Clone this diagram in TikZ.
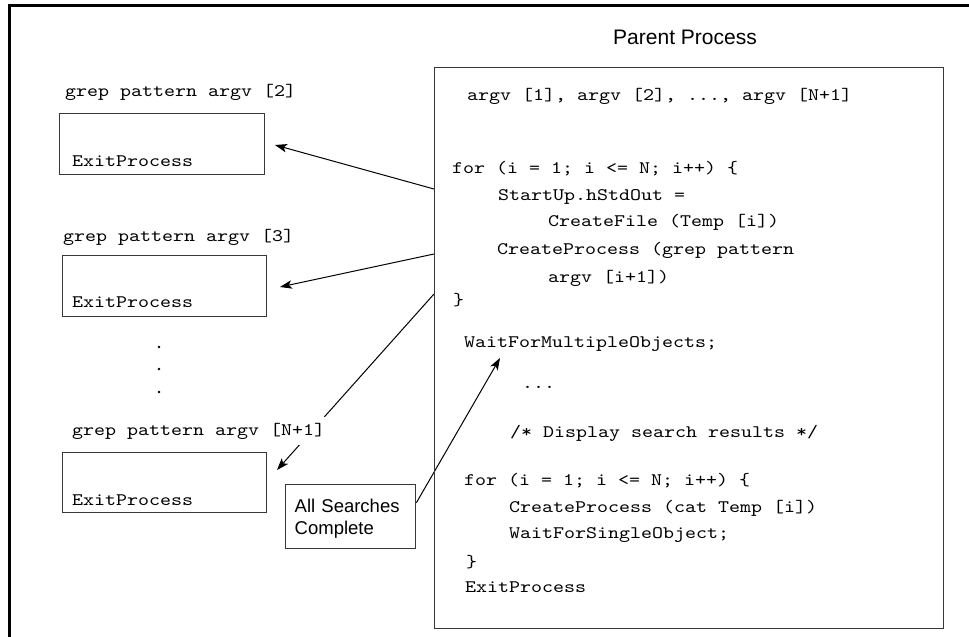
\documentclass[tikz,border=0pt]{standalone}
\usepackage{fontspec}
\setmainfont{Liberation Sans}
\newfontfamily\codefont[FakeStretch=1.19]{lmmono10-regular.otf}
\usetikzlibrary{arrows.meta,backgrounds}
\begin{document}
\begin{tikzpicture}[x=1pt,y=-1pt,
  code/.style={anchor=base west, inner sep=0pt, font=\codefont\fontsize{17.6}{22}\selectfont},
  cbox/.style={draw=black!78, line width=1.4pt, anchor=north west, inner sep=0pt},
  arr/.style={-{Stealth[length=12pt,width=8.5pt,inset=3pt]}, line width=1pt, black},
  frame/.style={line width=3pt, black}]
\useasboundingbox (0,0) rectangle (969,637);
% outer frame (cut off at right and bottom)
\draw[frame] (9,637) -- (9,5.5) -- (969,5.5);

% title and parent box
\node[font=\fontsize{21}{25}\selectfont] (title) at (685,37) {Parent Process};
\node[cbox, minimum width=509, minimum height=561] (P) at (434,67) {};

% parent code
\node[code] (c1) at (467,100) {argv [1], argv [2], ..., argv [N+1]};
\node[code] (c2) at (452,173) {for (i = 1; i <= N; i++) \{};
\node[code] (c3) at (498,200) {StartUp.hStdOut =};
\node[code] (c4) at (548,226) {CreateFile (Temp [i])};
\node[code] (c5) at (497,254) {CreateProcess (grep pattern};
\node[code] (c6) at (548,282) {argv [i+1])};
\node[code] (c7) at (453,305) {\}};
\node[code] (c8) at (464,347) {WaitForMultipleObjects;};
\node[code] (c9) at (522,388) {...};
\node[code] (c10) at (510,437) {/* Display search results */};
\node[code] (c11) at (464,485) {for (i = 1; i <= N; i++) \{};
\node[code] (c12) at (509,512) {CreateProcess (cat Temp [i])};
\node[code] (c13) at (509,538) {WaitForSingleObject;};
\node[code] (c14) at (466,567) {\}};
\node[code] (c15) at (465,592) {ExitProcess};

% child processes
\node[code] (L1) at (65,96) {grep pattern argv [2]};
\node[cbox, minimum width=205, minimum height=61] (B1) at (59,113) {};
\node[code] (E1) at (72,166) {ExitProcess};

\node[code] (L2) at (63,241) {grep pattern argv [3]};
\node[cbox, minimum width=204, minimum height=61] (B2) at (62,255) {};
\node[code] (E2) at (72,307) {ExitProcess};

\fill (159,347) circle (1.4);
\fill (159,369) circle (1.4);
\fill (159,392) circle (1.4);

\node[code, fill=white, inner xsep=4pt, inner ysep=6pt] (L3) at (68,435) {grep pattern argv [N+1]};
\node[cbox, minimum width=204, minimum height=60] (B3) at (62,452) {};
\node[code] (E3) at (72,505) {ExitProcess};

% all searches complete
\node[cbox, minimum width=129, minimum height=64, text width=112pt, align=left,
      inner xsep=9pt, font=\fontsize{18.5}{22.5}\selectfont] (All) at (285,484) {\rule{0pt}{17pt}All Searches\\Complete};

% connector ends
\coordinate (t1) at (P.west |- 0,189);
\coordinate (t2) at (P.west |- 0,254);
\coordinate (t3) at (P.west |- 0,294);
\coordinate (h1) at (275,145);
\coordinate (h2) at (280,287);
\coordinate (h3) at (277,470);
\coordinate (h4) at (500,358);

\begin{scope}[on background layer]
\draw[arr] (t1) -- (h1);
\draw[arr] (t2) -- (h2);
\draw[arr] (t3) -- (h3);
\draw[arr] ([yshift=14pt]All.east) -- (h4);
\end{scope}
\end{tikzpicture}
\end{document}
